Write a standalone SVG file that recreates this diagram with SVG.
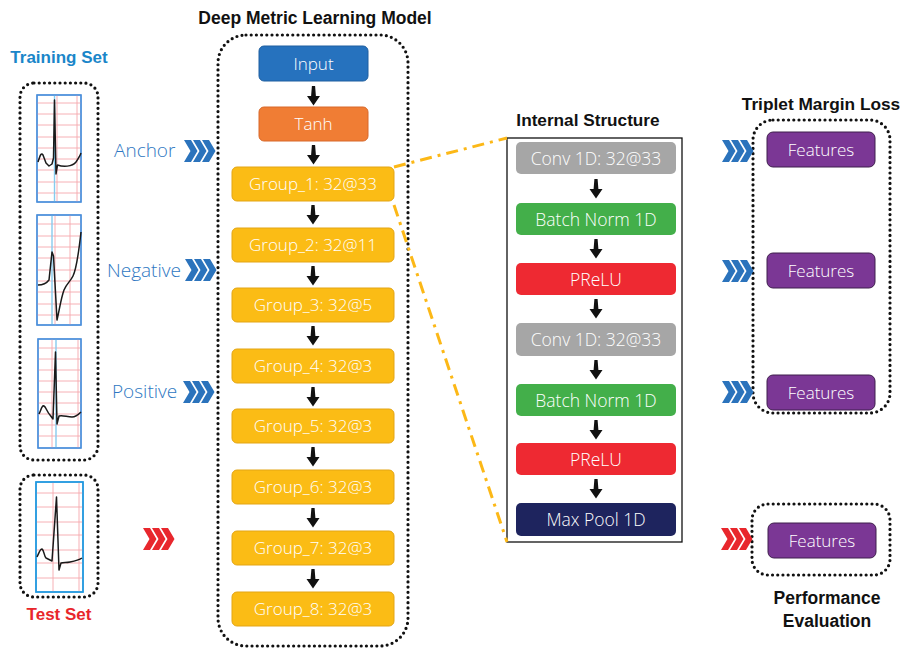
<svg xmlns="http://www.w3.org/2000/svg" width="906" height="649" viewBox="0 0 906 649">
  <style>
    .title { font-family: "Liberation Sans", Arial, sans-serif; font-weight: bold; font-size: 17.5px; fill: #111; text-anchor: middle; }
    .lbl { font-family: "Open Sans", "Liberation Sans", sans-serif; font-weight: 300; font-size: 17px; fill: #fff; text-anchor: middle; }
    .side { font-family: "Open Sans", "Liberation Sans", sans-serif; font-weight: 300; font-size: 19px; fill: #2E77C2; }
    .dotbox { fill: none; stroke: #111; stroke-width: 3.2; stroke-dasharray: 0 5.2; stroke-linecap: round; }
    .grid { stroke: #F5A7AD; stroke-width: 0.9; fill: none; }
    .frame { fill: #fff; stroke: #4A8FDA; stroke-width: 1.3; }
    .lead { stroke: #86CBEE; stroke-width: 1.4; }
    .trace { fill: none; stroke: #1a1a1a; stroke-width: 1.5; stroke-linejoin: round; }
    .zoomline { fill: none; stroke: #FCB817; stroke-width: 3; stroke-dasharray: 12 6 3 6; }
    .blue { fill: #2B73BC; }
    .red { fill: #E8272D; }
    .feat { fill: #7B3795; stroke: #3E1E4C; stroke-width: 1; }
  </style>
  <defs>
    <!-- three stacked chevrons, 31 px wide, centred on y=0 -->
    <symbol id="chev" overflow="visible">
      <path d="M0,-11 H7 L13.5,0 L7,11 H0 L6.5,0 Z M9,-11 H16 L22.5,0 L16,11 H9 L15.5,0 Z M18,-11 H25 L31.5,0 L25,11 H18 L24.5,0 Z"/>
    </symbol>
    <!-- short black block arrow pointing down, tip at y=19 -->
    <symbol id="down" overflow="visible">
      <path d="M-1.6,0 H1.6 L2.4,10 H6.5 L0,19.5 L-6.5,10 H-2.4 Z" fill="#111"/>
    </symbol>
  </defs>

  <rect width="906" height="649" fill="#fff"/>

  <!-- titles -->
  <text class="title" x="315" y="24">Deep Metric Learning Model</text>
  <text class="title" x="588" y="126" style="font-size:17.2px">Internal Structure</text>
  <text class="title" x="821" y="110" style="font-size:17.3px">Triplet Margin Loss</text>
  <text class="title" x="827" y="604">Performance</text>
  <text class="title" x="827" y="627">Evaluation</text>
  <text class="title" x="59" y="63" style="font-size:17px;fill:#1A86C9">Training Set</text>
  <text class="title" x="59" y="620" style="font-size:17px;fill:#E8262B">Test Set</text>

  <!-- training set -->
  <g id="training-set">
    <rect class="dotbox" x="20" y="83" width="78" height="377" rx="14"/>
    <g id="ecg-anchor">
      <rect class="frame" x="37" y="95" width="44" height="107"/>
      <path class="grid" d="M37,103H81M37,114H81M37,125H81M37,137H81M37,148H81M37,159H81M37,170H81M37,182H81M37,193H81M57,95V202M77,95V202"/>
      <line class="lead" x1="54.5" y1="95" x2="54.5" y2="202"/>
      <rect x="37" y="95" width="44" height="107" fill="none" stroke="#4A8FDA" stroke-width="1.3"/>
      <path class="trace" d="M38,162 C40,156 41,152 43,155 L46,163 L49,166 L52,164 L53.5,158 L54.5,100 L56,174 L57.5,165 C63,167 72,167 76,162 C78,159 80,156 81,153"/>
    </g>
    <g id="ecg-negative">
      <rect class="frame" x="37" y="215" width="44" height="110"/>
      <path class="grid" d="M37,224H81M37,236H81M37,247H81M37,258H81M37,270H81M37,281H81M37,292H81M37,304H81M37,315H81M55,215V325M70,215V325"/>
      <line class="lead" x1="52" y1="215" x2="52" y2="325"/>
      <rect x="37" y="215" width="44" height="110" fill="none" stroke="#4A8FDA" stroke-width="1.3"/>
      <path class="trace" d="M38,285 C42,285 46,284 49,280 L52,252 L53.5,256 L57,320 C59,312 61,298 64,290 C67,283 70,282 73,276 C77,268 79,250 81,232"/>
    </g>
    <g id="ecg-positive">
      <rect class="frame" x="38" y="339" width="43" height="109"/>
      <path class="grid" d="M38,348H81M38,359H81M38,370H81M38,381H81M38,392H81M38,403H81M38,414H81M38,425H81M38,436H81M52,339V448M78,339V448"/>
      <line class="lead" x1="56" y1="339" x2="56" y2="448"/>
      <rect x="38" y="339" width="43" height="109" fill="none" stroke="#4A8FDA" stroke-width="1.3"/>
      <path class="trace" d="M39,414 C41,410 42,405 44,406 C46,407 47,412 50,415 L53,419 L55.5,352 L57,424 L59,416 C63,415 67,417 72,417 C76,417 79,414 81,412"/>
    </g>
  </g>

  <!-- test set -->
  <g id="test-set">
    <rect class="dotbox" x="20" y="475" width="78" height="122" rx="14"/>
    <g id="ecg-test">
      <rect class="frame" x="36" y="482" width="47" height="110"/>
      <path class="grid" d="M36,493H83M36,507H83M36,522H83M36,535H83M36,550H83M36,563H83M36,578H83M53,482V592M79,482V592"/>
      <rect x="36" y="482" width="47" height="110" fill="none" stroke="#1E9BE0" stroke-width="1.6"/>
      <path class="trace" d="M37,557 C39,553 40,549 42,549 C44,550 44,556 46,558 L52,561 L56.5,497 L59,570 L61,563 C64,562 66,563 70,562 C75,561 79,560 82,558"/>
    </g>
  </g>

  <!-- deep metric learning model -->
  <g id="model">
    <rect class="dotbox" x="218" y="35" width="190" height="611" rx="28"/>
  </g>
  <g id="input"><rect x="259" y="46" width="109" height="35" rx="5" fill="#2672BE" stroke="#1F5FA0"/><text class="lbl" x="313.5" y="69.5">Input</text></g>
  <g id="tanh"><rect x="259" y="107" width="109" height="34" rx="5" fill="#F07D34" stroke="#D8692A"/><text class="lbl" x="313.5" y="130">Tanh</text></g>
  <g id="group1"><rect x="232" y="167" width="162" height="34" rx="5" fill="#FBBC15" stroke="#E3A514"/><text class="lbl" x="313" y="190">Group_1: 32@33</text></g>
  <g id="group2"><rect x="232" y="228" width="162" height="34" rx="5" fill="#FBBC15" stroke="#E3A514"/><text class="lbl" x="313" y="251">Group_2: 32@11</text></g>
  <g id="group3"><rect x="232" y="288" width="162" height="34" rx="5" fill="#FBBC15" stroke="#E3A514"/><text class="lbl" x="313" y="311">Group_3: 32@5</text></g>
  <g id="group4"><rect x="232" y="349" width="162" height="34" rx="5" fill="#FBBC15" stroke="#E3A514"/><text class="lbl" x="313" y="372">Group_4: 32@3</text></g>
  <g id="group5"><rect x="232" y="409" width="162" height="34" rx="5" fill="#FBBC15" stroke="#E3A514"/><text class="lbl" x="313" y="432">Group_5: 32@3</text></g>
  <g id="group6"><rect x="232" y="470" width="162" height="34" rx="5" fill="#FBBC15" stroke="#E3A514"/><text class="lbl" x="313" y="493">Group_6: 32@3</text></g>
  <g id="group7"><rect x="232" y="531" width="162" height="34" rx="5" fill="#FBBC15" stroke="#E3A514"/><text class="lbl" x="313" y="554">Group_7: 32@3</text></g>
  <g id="group8"><rect x="232" y="592" width="162" height="34" rx="5" fill="#FBBC15" stroke="#E3A514"/><text class="lbl" x="313" y="615">Group_8: 32@3</text></g>

  <!-- internal structure of a group -->
  <g id="internal">
    <rect x="507" y="138" width="175" height="404" fill="none" stroke="#111" stroke-width="1.3"/>
  </g>
  <g id="conv1"><rect x="516" y="142" width="160" height="32" rx="5" fill="#A6A6A6"/><text class="lbl" x="596" y="164.5" style="font-size:17.5px">Conv 1D: 32@33</text></g>
  <g id="bn1"><rect x="516" y="203" width="160" height="32" rx="5" fill="#43AF4A"/><text class="lbl" x="596" y="225.5" style="font-size:17.5px">Batch Norm 1D</text></g>
  <g id="prelu1"><rect x="516" y="263" width="160" height="32" rx="5" fill="#EE2932"/><text class="lbl" x="596" y="285.5" style="font-size:17.5px">PReLU</text></g>
  <g id="conv2"><rect x="516" y="323" width="160" height="33" rx="5" fill="#A6A6A6"/><text class="lbl" x="596" y="346" style="font-size:17.5px">Conv 1D: 32@33</text></g>
  <g id="bn2"><rect x="516" y="384" width="160" height="32" rx="5" fill="#43AF4A"/><text class="lbl" x="596" y="406.5" style="font-size:17.5px">Batch Norm 1D</text></g>
  <g id="prelu2"><rect x="516" y="443" width="160" height="32" rx="5" fill="#EE2932"/><text class="lbl" x="596" y="465.5" style="font-size:17.5px">PReLU</text></g>
  <g id="maxpool"><rect x="516" y="503" width="160" height="33" rx="5" fill="#1E245E"/><text class="lbl" x="596" y="526" style="font-size:17.5px">Max Pool 1D</text></g>

  <!-- loss / evaluation -->
  <g id="triplet-loss">
    <rect class="dotbox" x="753" y="120" width="137" height="293" rx="20"/>
  </g>
  <g id="feat-anchor"><rect class="feat" x="767" y="132" width="108" height="35" rx="6"/><text class="lbl" x="821" y="155.5">Features</text></g>
  <g id="feat-negative"><rect class="feat" x="767" y="253" width="108" height="35" rx="6"/><text class="lbl" x="821" y="276.5">Features</text></g>
  <g id="feat-positive"><rect class="feat" x="767" y="375" width="108" height="35" rx="6"/><text class="lbl" x="821" y="398.5">Features</text></g>
  <g id="evaluation">
    <rect class="dotbox" x="752" y="504" width="138" height="71" rx="16"/>
  </g>
  <g id="feat-test"><rect class="feat" x="768" y="523" width="108" height="35" rx="6"/><text class="lbl" x="822" y="546.5">Features</text></g>

  <!-- input labels -->
  <text class="side" x="114" y="157">Anchor</text>
  <text class="side" x="107" y="277">Negative</text>
  <text class="side" x="112" y="398">Positive</text>

  <!-- connectors -->
  <g id="connectors">
    <use href="#down" x="313.5" y="86"/>
    <use href="#down" x="313.5" y="145"/>
    <use href="#down" x="313" y="205"/>
    <use href="#down" x="313" y="266"/>
    <use href="#down" x="313" y="326"/>
    <use href="#down" x="313" y="387"/>
    <use href="#down" x="313" y="447"/>
    <use href="#down" x="313" y="508"/>
    <use href="#down" x="313" y="569"/>

    <use href="#down" x="596" y="179"/>
    <use href="#down" x="596" y="239"/>
    <use href="#down" x="596" y="299"/>
    <use href="#down" x="596" y="360"/>
    <use href="#down" x="596" y="420"/>
    <use href="#down" x="596" y="479"/>

    <path class="zoomline" d="M394,167 L507,138"/>
    <path class="zoomline" d="M394,205 L507,542"/>

    <use href="#chev" class="blue" x="184" y="151"/>
    <use href="#chev" class="blue" x="185" y="270"/>
    <use href="#chev" class="blue" x="183" y="392"/>
    <use href="#chev" class="red" x="143" y="539"/>

    <use href="#chev" class="blue" x="722" y="151"/>
    <use href="#chev" class="blue" x="722" y="271"/>
    <use href="#chev" class="blue" x="722" y="392"/>
    <use href="#chev" class="red" x="721" y="539"/>
  </g>
</svg>
